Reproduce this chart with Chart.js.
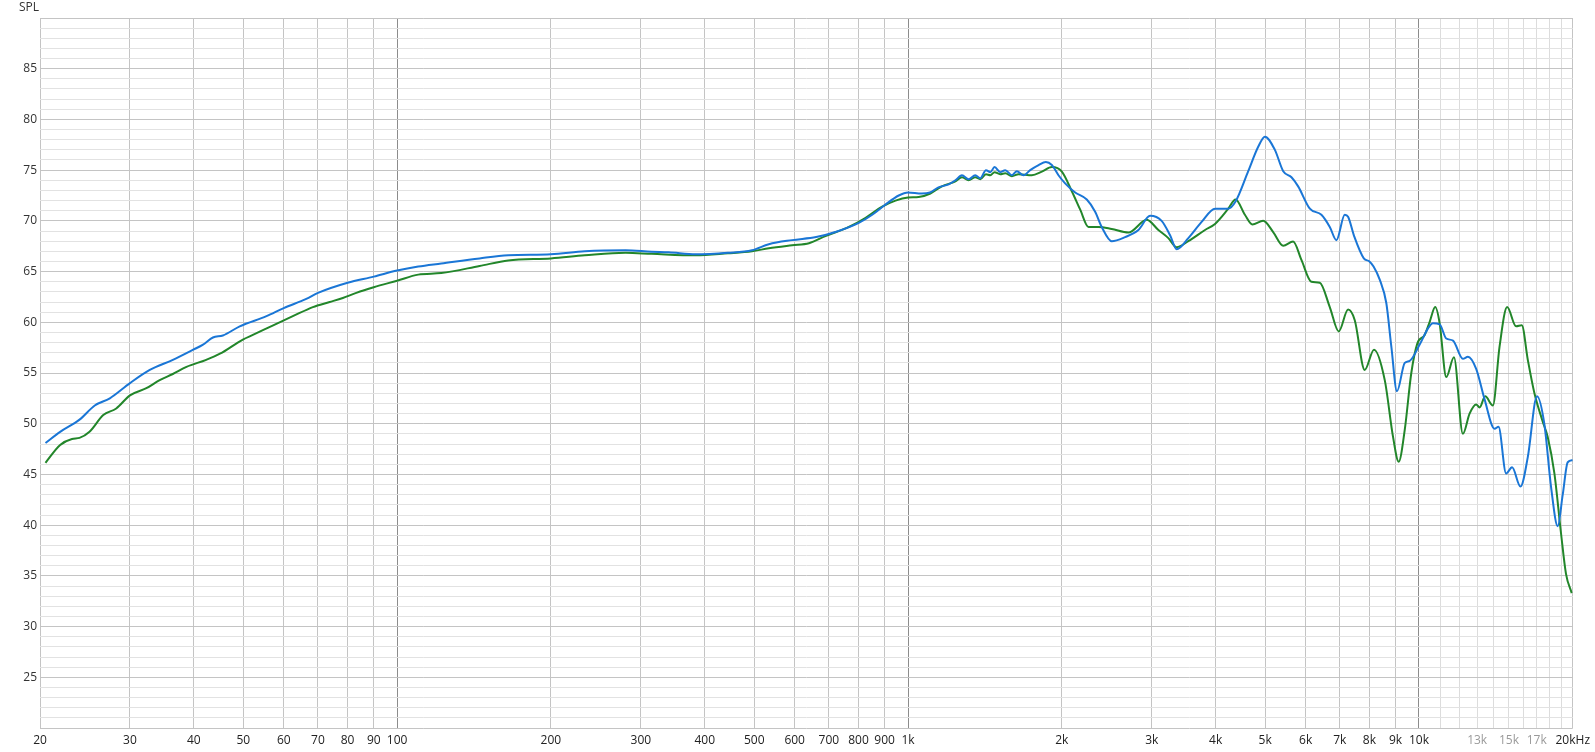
<!DOCTYPE html>
<html>
<head>
<meta charset="utf-8">
<script src="https://cdn.jsdelivr.net/npm/chart.js@4.4.1/dist/chart.umd.min.js"></script>
<style>
  html, body { margin: 0; padding: 0; background: #fff; }
  #wrap { width: 1595px; height: 752px; position: relative; }
</style>
</head>
<body>
<div id="wrap"><canvas id="fr"></canvas></div>
<script>
// frequency ticks (Hz) and their labels
const xTickValues = [20, 30, 40, 50, 60, 70, 80, 90, 100, 200, 300, 400, 500, 600, 700, 800, 900,
  1000, 2000, 3000, 4000, 5000, 6000, 7000, 8000, 9000, 10000,
  11000, 12000, 13000, 14000, 15000, 16000, 17000, 18000, 19000, 20000];
const xTickLabels = ["20", "30", "40", "50", "60", "70", "80", "90", "100", "200", "300", "400", "500", "600", "700", "800", "900",
  "1k", "2k", "3k", "4k", "5k", "6k", "7k", "8k", "9k", "10k",
  "", "", "13k", "", "15k", "", "17k", "", "", "20kHz"];
const greyLabels = [13000, 15000, 17000];

// blue curve
const blueFreq = [20.5, 21.9, 23.9, 25.6, 27.4, 30, 32.8, 36.4, 39.9, 41.7, 43.6, 45.6, 49.2, 55.5, 60, 66.4, 70, 80, 90,
  100, 110, 122, 145, 165, 200, 233, 280, 315, 340, 384, 444, 495, 534, 593, 661, 721, 801, 851, 903, 959,
  1000, 1063, 1104, 1147, 1201, 1238, 1275, 1314, 1354, 1385, 1421, 1449, 1477, 1515, 1550, 1597, 1633, 1683, 1734, 1801, 1861, 1912, 1970,
  2030, 2124, 2238, 2324, 2394, 2504, 2660, 2824, 2977, 3136, 3256, 3356, 3537, 3755, 3989, 4234, 4375, 4633, 4846, 4994,
  5224, 5424, 5630, 5802, 6116, 6443, 6691, 6894, 7158, 7266, 7466, 7800, 8000, 8150, 8380, 8632, 8830, 9058, 9380, 9592,
  10033, 10416, 10652, 10978, 11310, 11657, 12190, 12468, 12942, 13442, 14060, 14314, 14812, 15216, 15802, 16332, 17026, 17604,
  18134, 18690, 19116, 19552, 20000];
const blueSpl = [48.1, 49.2, 50.4, 51.8, 52.5, 54.0, 55.3, 56.3, 57.3, 57.8, 58.5, 58.7, 59.6, 60.6, 61.4, 62.3, 62.9, 63.9, 64.5,
  65.1, 65.5, 65.8, 66.3, 66.6, 66.7, 67.0, 67.1, 66.95, 66.9, 66.7, 66.85, 67.1, 67.7, 68.1, 68.4, 68.9, 69.8, 70.6, 71.6, 72.5,
  72.8, 72.7, 72.8, 73.3, 73.6, 74.0, 74.5, 74.1, 74.5, 74.2, 75.0, 74.8, 75.3, 74.8, 75.0, 74.5, 74.9, 74.5, 75.0, 75.5, 75.8, 75.5, 74.5,
  73.7, 72.8, 72.1, 70.9, 69.4, 68.0, 68.4, 69.1, 70.5, 70.0, 68.6, 67.2, 68.3, 69.9, 71.2, 71.2, 71.9, 74.9, 77.3, 78.3,
  77.0, 74.9, 74.3, 73.4, 71.2, 70.6, 69.4, 68.1, 70.6, 70.4, 68.5, 66.3, 66.0, 65.5, 64.2, 61.9, 57.6, 53.2, 56.0, 56.2,
  57.8, 59.4, 59.9, 59.8, 58.4, 58.2, 56.4, 56.6, 55.4, 52.4, 49.5, 49.7, 45.1, 45.7, 43.8, 46.7, 52.7, 49.9,
  43.8, 39.9, 43.0, 46.2, 46.4];

// green curve
const greenFreq = [20.5, 21.9, 23.1, 23.9, 25.0, 26.6, 28.2, 30, 32.3, 34.3, 36.4, 38.7, 42.3, 45, 49.9, 52.2, 57.2, 62.5, 68.4, 73.8, 78.3, 83.2, 90,
  100, 110, 122, 145, 165, 200, 233, 280, 315, 384, 444, 495, 534, 593, 640, 689, 766, 826, 890, 945,
  1000, 1049, 1106, 1165, 1238, 1275, 1314, 1354, 1385, 1421, 1449, 1477, 1515, 1550, 1597, 1646, 1747, 1828, 1912,
  2000, 2093, 2173, 2255, 2359, 2504, 2700, 2932, 3090, 3232, 3356, 3537, 3813, 3989, 4234, 4375, 4564, 4720, 4956,
  5184, 5424, 5672, 5888, 6158, 6396, 6691, 6966, 7266, 7488, 7832, 8166, 8572, 8898, 9126, 9380, 9661, 9926,
  10262, 10496, 10762, 10978, 11310, 11708, 12190, 12563, 12942, 13142, 13480, 13954, 14380, 14880, 15492, 15896,
  16332, 16828, 17470, 17866, 18412, 18970, 19400, 19908];
const greenSpl = [46.15, 47.9, 48.5, 48.6, 49.2, 50.85, 51.5, 52.8, 53.5, 54.3, 54.9, 55.6, 56.3, 56.9, 58.3, 58.75, 59.7, 60.6, 61.5, 62.0, 62.4, 62.9, 63.45,
  64.1, 64.7, 64.85, 65.55, 66.1, 66.3, 66.6, 66.85, 66.75, 66.6, 66.8, 67.0, 67.3, 67.6, 67.8, 68.5, 69.4, 70.3, 71.4, 72.0,
  72.3, 72.35, 72.7, 73.4, 73.9, 74.3, 74.0, 74.3, 74.1, 74.6, 74.5, 74.8, 74.6, 74.7, 74.4, 74.6, 74.5, 74.85, 75.3,
  74.85, 72.9, 71.1, 69.4, 69.4, 69.2, 68.85, 70.1, 69.1, 68.3, 67.4, 68.0, 69.1, 69.7, 71.2, 72.1, 70.6, 69.65, 70.0,
  68.9, 67.55, 67.96, 66.15, 64.0, 63.9, 61.5, 59.1, 61.25, 60.2, 55.3, 57.3, 54.3, 48.7, 46.25, 49.4, 55.0, 57.9,
  58.75, 60.05, 61.5, 59.9, 54.6, 56.55, 49.0, 51.0, 51.9, 51.6, 52.7, 51.8, 57.6, 61.5, 59.6, 59.7,
  56.3, 53.0, 50.2, 48.7, 45.1, 39.2, 35.2, 33.3];

const FONT = { family: "'Open Sans', 'Noto Sans', sans-serif", size: 12 };

function pts(fs, vs) {
  return fs.map((f, i) => ({ x: f, y: vs[i] }));
}

// "SPL" caption above the y axis
const splLabel = {
  id: 'splLabel',
  afterDraw(chart) {
    const ctx = chart.ctx;
    ctx.save();
    ctx.font = "12px 'Open Sans', 'Noto Sans', sans-serif";
    ctx.fillStyle = '#333';
    ctx.textBaseline = 'middle';
    ctx.textAlign = 'left';
    ctx.fillText('SPL', 19, 8);
    ctx.restore();
  }
};

new Chart(document.getElementById('fr'), {
  type: 'line',
  data: {
    datasets: [
      {
        data: pts(blueFreq, blueSpl),
        borderColor: '#1a76d6',
        borderWidth: 2,
        pointRadius: 0,
        cubicInterpolationMode: 'monotone',
        fill: false
      },
      {
        data: pts(greenFreq, greenSpl),
        borderColor: '#22862a',
        borderWidth: 2,
        pointRadius: 0,
        cubicInterpolationMode: 'monotone',
        fill: false
      }
    ]
  },
  options: {
    responsive: true,
    maintainAspectRatio: false,
    animation: false,
    layout: { padding: { top: 18, right: 20, left: 0, bottom: 0 } },
    plugins: { legend: { display: false }, tooltip: { enabled: false } },
    scales: {
      x: {
        type: 'logarithmic',
        min: 20,
        max: 20000,
        afterBuildTicks(scale) {
          scale.ticks = xTickValues.map(v => ({ value: v }));
        },
        afterFit(scale) { scale.height = 24; },
        border: { display: false },
        grid: {
          drawTicks: false,
          color(ctx) {
            const v = ctx.tick && ctx.tick.value;
            if (v === 100 || v === 1000 || v === 10000) return '#8c8c8c';
            if (v > 10000 && v < 20000) return '#dcdcdc';
            return '#c4c4c4';
          }
        },
        ticks: {
          autoSkip: false,
          maxRotation: 0,
          padding: 5,
          font: FONT,
          color(ctx) {
            return greyLabels.includes(ctx.tick.value) ? '#9a9a9a' : '#222';
          },
          callback(value) {
            const i = xTickValues.indexOf(value);
            return i >= 0 ? xTickLabels[i] : '';
          }
        }
      },
      y: {
        min: 20,
        max: 90,
        afterFit(scale) { scale.width = 40; },
        border: { display: false },
        grid: {
          drawTicks: false,
          color(ctx) {
            const v = ctx.tick && ctx.tick.value;
            return v % 5 === 0 ? '#c4c4c4' : '#e2e2e2';
          }
        },
        ticks: {
          stepSize: 1,
          autoSkip: false,
          padding: 3,
          font: FONT,
          color: '#333',
          callback(value) {
            return (value % 5 === 0 && value > 20 && value < 90) ? String(value) : '';
          }
        }
      }
    }
  },
  plugins: [splLabel]
});
</script>
</body>
</html>
